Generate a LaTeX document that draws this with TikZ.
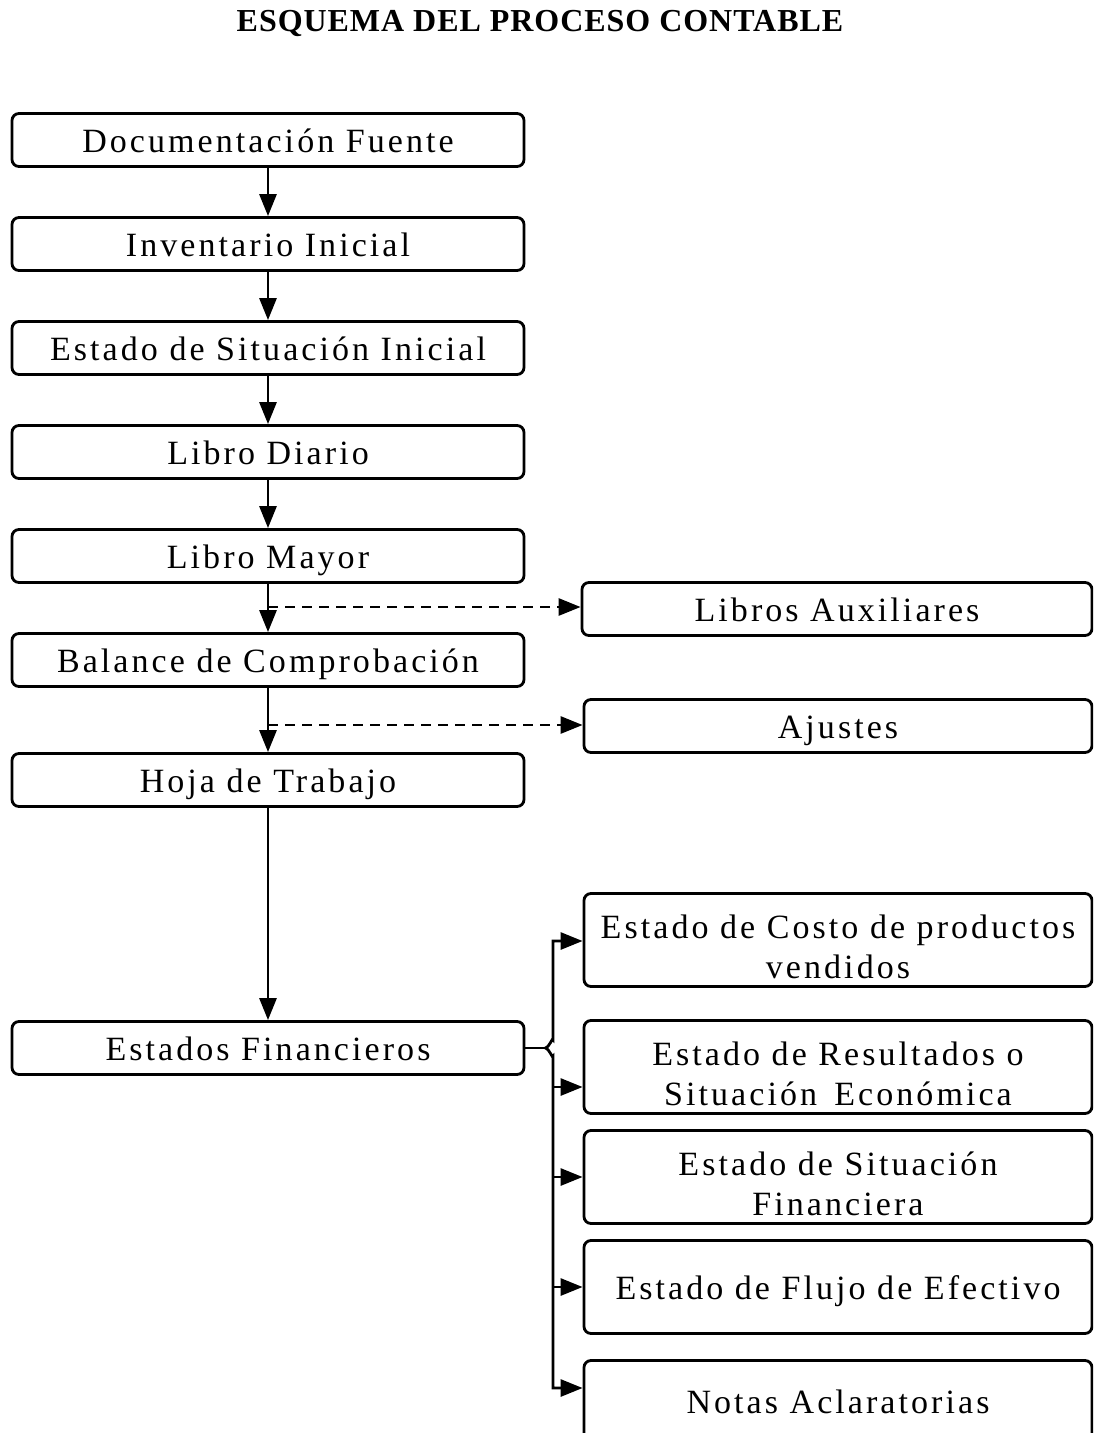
\documentclass[tikz,border=0pt]{standalone}
\usepackage{fontspec}
\setmainfont{Liberation Serif}
\newfontfamily\boxfont[LetterSpace=9]{Liberation Serif}
\usetikzlibrary{arrows.meta,calc}
\newcommand{\tstrut}{\rule{0pt}{38pt}}
\begin{document}
\begin{tikzpicture}[x=1pt,y=-1pt,
  every node/.style={inner sep=0pt},
  boxbase/.style={draw,line width=2.8pt,rounded corners=7pt,minimum width=512pt,minimum height=53pt,
     font=\boxfont\fontsize{34}{40}\selectfont,align=center},
  sline/.style={text height=28pt,text depth=4pt},
  lbox/.style={boxbase,sline},
  rbox/.style={lbox,minimum width=508pt},
  tbox/.style={boxbase,minimum width=508pt,minimum height=93pt},
  conn/.style={line width=2.8pt,-{Triangle[length=22pt,width=17pt]}},
  dconn/.style={conn,dash pattern=on 10pt off 7pt},
  plain/.style={line width=2.8pt}]
\useasboundingbox (0,0) rectangle (1093,1433);
\clip (0,0) rectangle (1093,1433);
\node (title) at (540,23) {\fontsize{32}{38}\selectfont\bfseries\addfontfeatures{LetterSpace=3}ESQUEMA DEL PROCESO CONTABLE};
\node[lbox] (df) at (268,140) {Documentación Fuente};
\node[lbox] (ii) at (268,244) {Inventario Inicial};
\node[lbox] (esi) at (268,348) {Estado de Situación Inicial};
\node[lbox] (ld) at (268,452) {Libro Diario};
\node[lbox] (lm) at (268,556) {Libro Mayor};
\node[lbox] (bc) at (268,660) {Balance de Comprobación};
\node[lbox] (ht) at (268,780) {Hoja de Trabajo};
\node[lbox] (ef) at (268,1048) {Estados Financieros};
\node[rbox,minimum width=510pt] (la) at (837,609) {Libros Auxiliares};
\node[rbox] (aj) at (838,726) {Ajustes};
\node[tbox] (c1) at (838,940) {\tstrut Estado de Costo de productos\\vendidos};
\node[tbox] (c2) at (838,1067) {\tstrut Estado de Resultados o\\Situación\, Económica};
\node[tbox] (c3) at (838,1177) {\tstrut Estado de Situación\\Financiera};
\node[tbox,sline] (c4) at (838,1287) {Estado de Flujo de Efectivo};
\node[tbox,text depth=0pt] (c5) at (838,1407) {\raisebox{10pt}{Notas Aclaratorias}};
\draw[conn] (df) -- (ii);
\draw[conn] (ii) -- (esi);
\draw[conn] (esi) -- (ld);
\draw[conn] (ld) -- (lm);
\draw[conn] (lm) -- (bc);
\draw[conn] (bc) -- (ht);
\draw[conn] (ht) -- (ef);
\coordinate (d1) at (268,607);
\coordinate (d2) at (268,725);
\draw[dconn] (d1) -- (la.west |- d1);
\draw[dconn] (d2) -- (aj.west |- d2);
\coordinate (bm) at (545,1048);
\coordinate (bt) at (553,941);
\coordinate (bb) at (553,1388);
\draw[plain] (ef.east) -- (bm);
\draw[conn] (bm) to[out=0,in=90] (553,1040) -- (bt) -- (c1.west |- bt);
\draw[conn] (bm) to[out=0,in=-90] (553,1056) -- (bb) -- (c5.west |- bb);
\draw[conn] (553,1087) -- (c2.west |- 0,1087);
\draw[conn] (553,1177) -- (c3.west);
\draw[conn] (553,1287) -- (c4.west);
\end{tikzpicture}
\end{document}
